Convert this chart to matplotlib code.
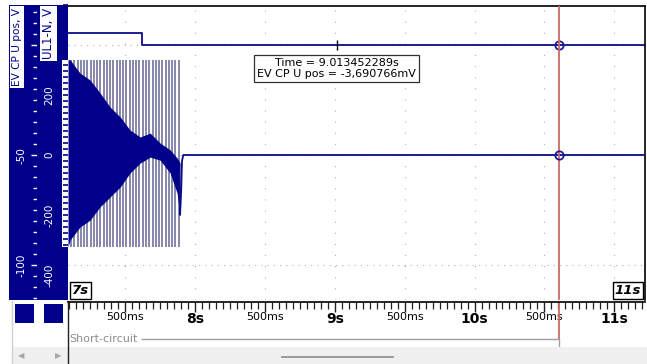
import matplotlib
matplotlib.use('Agg')
import matplotlib.pyplot as plt
from matplotlib.ticker import MultipleLocator
from matplotlib.patches import Rectangle

W, H = 647, 364

# visible time window of the scope (s)
t_start, t_end = 7.09, 11.22

# EV CP U pos, V (step trace at the top)
ev_t = [7.09, 7.618, 7.618, 11.22]
ev_v = [5.7, 5.7, 0.0, 0.0]

# UL1-N, V : aliased mains burst before the short-circuit
burst_t = [7.112, 7.135, 7.159, 7.182, 7.205, 7.229, 7.252, 7.275, 7.298,
           7.322, 7.345, 7.368, 7.392, 7.415, 7.438, 7.462, 7.485, 7.508,
           7.531, 7.555, 7.578, 7.601, 7.625, 7.648, 7.671, 7.695, 7.718,
           7.741, 7.764, 7.788, 7.811, 7.834, 7.858, 7.881]
burst_lo, burst_hi = -307, 318
env_t = [7.09, 7.105, 7.176, 7.248, 7.319, 7.391, 7.463, 7.534, 7.606,
         7.678, 7.749, 7.821, 7.871, 7.892]
env_hi = [318, 317, 273, 250, 207, 160, 127, 83, 60, 73, 40, 17, -10, -27]
env_lo = [-307, -283, -240, -217, -173, -140, -107, -60, -27, -7, -17, -60,
          -127, -200]

# UL1-N after the short-circuit
tail_t = [7.885, 7.892, 7.900, 7.906, 7.915, 11.22]
tail_v = [-60, -200, -120, -20, 0, 0]

cursor_t = 10.605
probe_t = 9.013452289
probe_txt = 'Time = 9.013452289s\nEV CP U pos = -3,690766mV'

ruler_ticks = [7.5, 8.0, 8.5, 9.0, 9.5, 10.0, 10.5, 11.0]
ruler_labels = ['500ms', '8s', '500ms', '9s', '500ms', '10s', '500ms', '11s']
ev_grid = [0, -50, -100]
ev_ticks = [-100, -50, 0]
ev_labels = ['-100', '-50', '']
ul_ticks = [-400, -200, 0, 200, 400]
ul_labels = ['-400', '-200', '0', '200', '']
event_name = 'Short-circuit'
event_span = (7.615, 10.605)

NAVY = '#00008b'
TRACE = '#0c0c86'
RED = '#cc6a6a'


def box(x0, y0, x1, y1):
    return [x0 / W, 1 - y1 / H, (x1 - x0) / W, (y1 - y0) / H]


fig = plt.figure(figsize=(W / 100, H / 100), dpi=100)
fig.patch.set_facecolor('white')

# window chrome
ui = fig.add_axes([0, 0, 1, 1])
ui.set_xlim(0, W)
ui.set_ylim(H, 0)
ui.axis('off')
ui.add_patch(Rectangle((12, 347), W - 12, 17, fc='#f0f0f0', ec='none'))
ui.add_patch(Rectangle((15, 304), 19, 19, fc=NAVY, ec='none'))
ui.add_patch(Rectangle((44, 304), 19, 19, fc=NAVY, ec='none'))
ui.plot([68, 68], [301, 364], color='#202020', lw=1)
ui.plot([12, 12], [301, 364], color='#d0d0d0', lw=1)
ui.plot([282, 393], [357, 357], color='#8a8a8a', lw=1.2)
ui.text(21, 356, '\u25C0', color='#a8a8a8', fontsize=6, ha='center', va='center')
ui.text(58, 356, '\u25B6', color='#a8a8a8', fontsize=6, ha='center', va='center')

# left axis panel: EV CP U pos
pax1 = fig.add_axes(box(9, 5, 37, 300))
pax1.set_facecolor(NAVY)
for s in pax1.spines.values():
    s.set_visible(False)
pax1.set_xticks([])
pax1.set_ylim(-115.8, 18.3)
pax1.set_yticks(ev_ticks, ev_labels)
pax1.yaxis.set_minor_locator(MultipleLocator(5))
pax1.tick_params(axis='y', which='both', direction='in', color='white',
                 labelcolor='white', left=False, right=True,
                 labelleft=False, labelright=True, labelsize=7.5,
                 pad=-11.5, labelrotation=90)
pax1.tick_params(axis='y', which='major', length=4.5, width=1)
pax1.tick_params(axis='y', which='minor', length=3, width=1)
for lbl in pax1.get_yticklabels():
    lbl.set_ha('center')
    lbl.set_va('center')
pax1.text(0.29, 0.99, 'EV CP U pos, V', transform=pax1.transAxes,
          rotation=90, ha='center', va='top', fontsize=7.6, color=NAVY,
          bbox=dict(boxstyle='square,pad=0.18', fc='white', ec='none'))

# left axis panel: UL1-N
pax2 = fig.add_axes(box(37, 5, 68, 300))
pax2.set_facecolor(NAVY)
for s in pax2.spines.values():
    s.set_visible(False)
pax2.set_xticks([])
pax2.set_ylim(-483.3, 500)
pax2.axhspan(burst_lo, burst_hi, xmin=(61.5 - 37) / 31, xmax=1,
             color='white', lw=0)
pax2.set_yticks(ul_ticks, ul_labels)
pax2.yaxis.set_minor_locator(MultipleLocator(20))
pax2.tick_params(axis='y', which='both', direction='in', color=NAVY,
                 labelcolor='white', left=False, right=True,
                 labelleft=False, labelright=True, labelsize=7.5,
                 pad=-13.3, labelrotation=90, length=3.6, width=1.2)
for lbl in pax2.get_yticklabels():
    lbl.set_ha('center')
    lbl.set_va('center')
pax2.text(0.37, 0.99, 'UL1-N, V', transform=pax2.transAxes,
          rotation=90, ha='center', va='top', fontsize=8.5, color=NAVY,
          bbox=dict(boxstyle='square,pad=0.15', fc='white', ec='none'))

# plot area: EV CP (background, grid) and UL1-N on a twin axis
ax2 = fig.add_axes(box(68, 6, 645, 300))
ax2.set_xlim(t_start, t_end)
ax2.set_ylim(-115.8, 17.9)
ax2.set_xticks(ruler_ticks)
ax2.set_yticks(ev_grid)
ax2.tick_params(length=0, labelbottom=False, labelleft=False)
ax2.grid(axis='x', color='#b0b0b0', lw=0.8, linestyle=(0, (1, 9)))
ax2.grid(axis='y', color='#b0b0b0', lw=0.8, linestyle=(0, (1, 4.6)))
ax2.plot(ev_t, ev_v, color=TRACE, lw=1.3)
ax2.vlines(probe_t, -2.3, 2.3, color='black', lw=1)
ax2.text(probe_t, -10.5, probe_txt, ha='center', va='center', fontsize=8,
         color='black', zorder=6, linespacing=1.15,
         bbox=dict(boxstyle='square,pad=0.3', fc='white', ec='#303030', lw=0.9))
ax2.plot([cursor_t], [0], 'o', ms=6, mfc='none', mec='#1a1a9a', mew=1.3,
         zorder=6)

ax = ax2.twinx()
ax.set_ylim(-483.3, 496.7)
ax.tick_params(right=False, labelright=False)
for a in (ax, ax2):
    for s in a.spines.values():
        s.set_visible(False)
ax.spines['top'].set_visible(True)
ax.spines['right'].set_visible(True)
ax.spines['top'].set_linewidth(1.2)
ax.spines['right'].set_linewidth(1.2)

ax.vlines(burst_t, burst_lo, burst_hi, color='#8686ac', lw=1.4, zorder=2)
ax.fill_between(env_t, env_lo, env_hi, color=NAVY, lw=0, zorder=3)
ax.plot(tail_t, tail_v, color=TRACE, lw=1.3, zorder=3)
ax.axvline(cursor_t, color=RED, lw=1.3, zorder=4)
ax.plot([cursor_t], [0], 'o', ms=6, mfc='none', mec='#1a1a9a', mew=1.3,
        zorder=6)

bb = dict(boxstyle='square,pad=0.15', fc='white', ec='black', lw=1)
ax.text(0.007, 0.01, '7s', transform=ax.transAxes, ha='left', va='bottom',
        fontsize=9.5, fontweight='bold', fontstyle='italic', bbox=bb, zorder=7)
ax.text(0.993, 0.01, '11s', transform=ax.transAxes, ha='right', va='bottom',
        fontsize=9.5, fontweight='bold', fontstyle='italic', bbox=bb, zorder=7)

# time ruler
rax = fig.add_axes(box(68, 302, 645, 310))
rax.set_xlim(t_start, t_end)
rax.set_ylim(0, 1)
rax.patch.set_visible(False)
for k, s in rax.spines.items():
    s.set_visible(k == 'top')
rax.spines['top'].set_linewidth(1.2)
rax.set_yticks([])
rax.set_xticks(ruler_ticks, ruler_labels)
rax.xaxis.set_minor_locator(MultipleLocator(0.05))
rax.tick_params(axis='x', which='both', direction='in', top=True,
                bottom=False, labelbottom=True, labeltop=False,
                color='#202020', pad=1.5)
rax.tick_params(axis='x', which='major', length=7, width=1)
rax.tick_params(axis='x', which='minor', length=5, width=0.9)
for lbl, txt in zip(rax.get_xticklabels(), ruler_labels):
    if txt.endswith('ms'):
        lbl.set_fontsize(8)
    else:
        lbl.set_fontsize(10)
        lbl.set_fontweight('bold')
rax.axvline(cursor_t, color=RED, lw=1.3)

# event row
eax = fig.add_axes(box(68, 310, 645, 347))
eax.set_xlim(t_start, t_end)
eax.set_ylim(0, 1)
eax.axis('off')
ev_y = (347 - 339) / 37
eax.axvline(cursor_t, ymin=ev_y, ymax=1, color=RED, lw=1.3)
eax.axvline(cursor_t, ymin=0, ymax=ev_y, color='#a0a0a0', lw=1)
eax.hlines(ev_y, event_span[0], event_span[1], color='#a0a0a0', lw=1)
eax.text(7.1, ev_y, event_name, color='#8c8c8c', fontsize=8,
         ha='left', va='center')

fig.savefig('out.png', dpi=100)
